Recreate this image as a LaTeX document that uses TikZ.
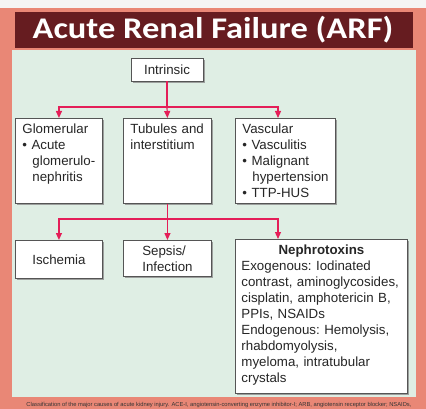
\documentclass[tikz,border=0pt]{standalone}
\usepackage{fontspec}
\setmainfont{Liberation Sans}
\newfontfamily\titlefont{Carlito}
\usetikzlibrary{arrows.meta,shadows}
\definecolor{salmon}{RGB}{233,135,118}
\definecolor{titlebar}{RGB}{102,28,32}
\definecolor{panel}{RGB}{223,238,228}
\definecolor{arrowred}{RGB}{228,30,88}
\definecolor{boxgray}{RGB}{85,85,85}
\tikzset{
  box/.style={draw=boxgray,line width=0.9pt,fill=white,text=black!85,
    font=\fontsize{13.3}{16}\selectfont,
    execute at begin node={\frenchspacing\hyphenpenalty=10000\exhyphenpenalty=10000},
    drop shadow={shadow xshift=2pt,shadow yshift=-2pt,fill=black!45,opacity=0.8}},
  cause/.style={box,anchor=north west,inner xsep=7pt,inner ysep=5pt,
    text height=10pt,align=left},
  link/.style={draw=arrowred,line width=1.2pt},
  arr/.style={link,-{Triangle[length=7pt,width=6pt]}}
}
\begin{document}
\begin{tikzpicture}[x=1pt,y=1pt]
\fill[gray!8] (0,0) rectangle (426,-409);
\useasboundingbox (0,0) rectangle (426,-409);
\fill[salmon] (0,-8) rectangle (426,-409);
\fill[titlebar] (15,-12) rectangle (413,-48);
\fill[panel] (12,-50) rectangle (416,-397);
\node[anchor=base,text=white,font=\titlefont\bfseries\fontsize{30}{30}\selectfont] (title) at (213,-38.3)
  {\scalebox{1.15}[1]{Acute Renal Failure (ARF)}};
% top level
\node[box,minimum width=72pt,minimum height=23pt,inner sep=0pt] (intr) at (167,-69.5) {Intrinsic};
\node[cause,text width=73pt,text depth=65pt] (glom) at (15,-118)
  {Glomerular\\ \textbullet\ Acute\\ \hspace*{10pt}\mbox{glomerulo-}\\ \hspace*{10pt}nephritis};
\node[cause,text width=74pt,text depth=65pt] (tub) at (123,-118)
  {\mbox{Tubules and}\\ interstitium};
\node[cause,text width=86pt,text depth=65pt] (vasc) at (235,-118)
  {Vascular\\ \textbullet\ Vasculitis\\ \textbullet\ Malignant\\ \hspace*{10pt}\mbox{hypertension}\\ \textbullet\ TTP-HUS};
% tubular causes
\node[box,anchor=north west,minimum width=87pt,minimum height=38pt] (isch) at (15,-240) {Ischemia};
\node[box,anchor=north west,minimum width=88pt,minimum height=36pt,align=left] (seps) at (123,-240)
  {Sepsis/\\ Infection};
\node[cause,inner xsep=6pt,text width=160pt,text depth=134pt] (neph) at (235,-239)
  {\makebox[160pt]{\bfseries Nephrotoxins}\\
   Exogenous: Iodinated\\ \mbox{contrast, aminoglycosides,}\\ cisplatin, amphotericin B,\\ PPIs, NSAIDs\\
   Endogenous: Hemolysis,\\ rhabdomyolysis,\\ myeloma, intratubular\\ crystals};
% connectors
\draw[link] (intr.south) -- ++(0,-25.5) coordinate (j1);
\draw[arr] (j1) -| (glom.north);
\draw[arr] (j1) -- (tub.north);
\draw[arr] (j1) -| ([xshift=43pt]vasc.north west);
\draw[link] (tub.south) -- ++(0,-15) coordinate (j2);
\draw[arr] (j2) -| (isch.north);
\draw[arr] (j2) -- (seps.north);
\draw[arr] (j2) -| ([xshift=43pt]neph.north west);
\node[anchor=base,text=black!80] (note) at (219,-406)
  {\resizebox{385pt}{!}{\fontsize{5}{6}\selectfont Classification of the major causes of acute kidney injury. ACE-I, angiotensin-converting enzyme inhibitor-I; ARB, angiotensin receptor blocker; NSAIDs,}};
\end{tikzpicture}
\end{document}
